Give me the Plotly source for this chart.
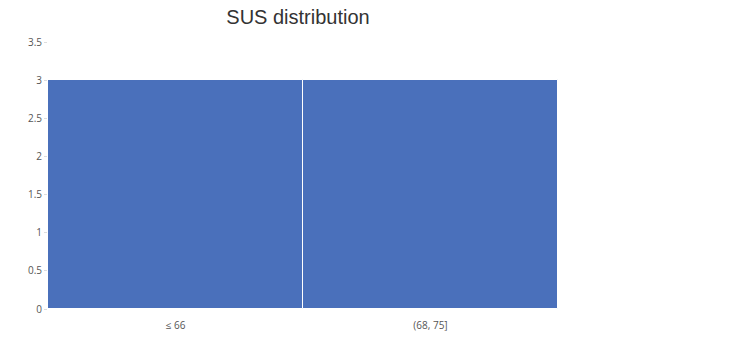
import plotly.graph_objects as go

categories = ["≤ 66", "(68, 75]"]
counts = [3, 3]
y_ticks = [0, 0.5, 1, 1.5, 2, 2.5, 3, 3.5]

fig = go.Figure(go.Bar(
    x=categories, y=counts,
    marker=dict(color="#4a70bb", line=dict(color="white", width=1)),
))
fig.update_layout(
    width=729, height=343,
    margin=dict(l=48, r=171, t=42, b=34, autoexpand=False),
    paper_bgcolor="white", plot_bgcolor="white",
    bargap=0,
    title=dict(text="SUS distribution", x=298 / 729, xanchor="center",
               y=1 - 17 / 343, yanchor="middle",
               font=dict(family="Liberation Sans", size=20, color="#333")),
    font=dict(family="Open Sans", size=10, color="#555"),
    showlegend=False,
)
fig.update_yaxes(range=[0, 3.5], tickvals=y_ticks,
                 ticktext=[f"{v:g}" for v in y_ticks],
                 showgrid=False, zeroline=False, showline=False,
                 ticks="outside", ticklen=3, tickcolor="#ddd", automargin=False)
fig.update_xaxes(showgrid=False, showline=False, ticks="",
                 ticklabelstandoff=9, automargin=False)
fig.write_html("out.html")
